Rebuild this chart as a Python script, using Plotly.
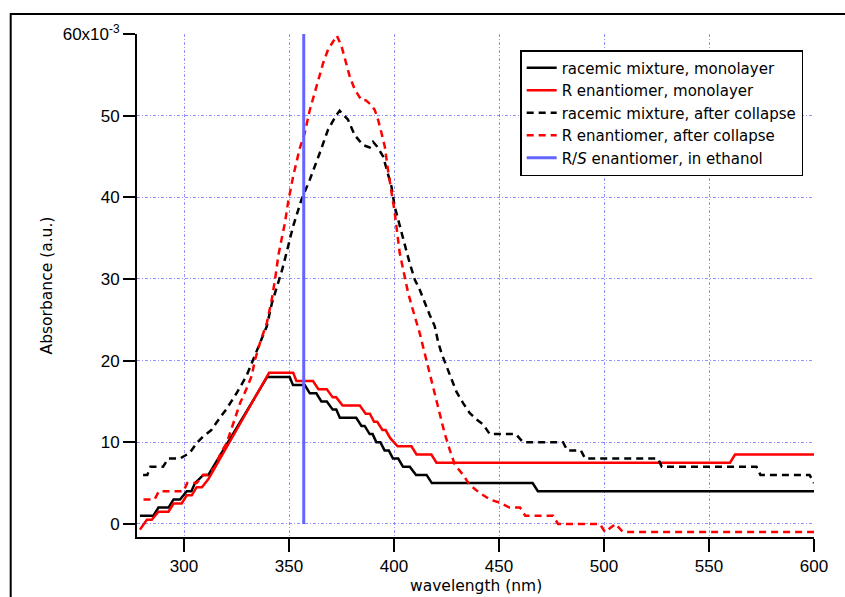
import plotly.graph_objects as go

# ---------------- data (absorbance in units of 1e-3) ----------------
rac_mono_x = [279, 285.4, 287.8, 292.6, 295, 298.1, 301.3, 303.5, 305.2, 309.2, 311.6, 339.6,
              350.3, 351.9, 357.5, 359.9, 363, 365.4, 368, 370.8, 372.5, 374.2, 382, 384.5,
              386, 388.4, 389.8, 391.6, 393.5, 395.5, 397.5, 399.5, 402, 404.3, 407.5, 410.5,
              415.5, 418, 466, 468.5, 600]
rac_mono_y = [1, 1, 2, 2, 3, 3, 4, 4, 5, 6, 6, 18,
              18, 17, 17, 16, 16, 15, 15, 14, 14, 13, 13, 12,
              12, 11, 11, 10, 10, 9, 9, 8, 8, 7, 7, 6,
              6, 5, 5, 4, 4]

r_mono_x = [279, 282.3, 284.6, 287.8, 292.6, 295, 298.9, 301.3, 303.7, 306, 308.5, 311.6, 340.5,
            352, 353.5, 361.4, 364, 368, 370.8, 372.5, 375.5, 383.7, 386.5, 388.5, 390.5, 392,
            394.5, 396, 398.2, 401.7, 408.3, 410.7, 417.8, 420.2, 560, 562.4, 600]
r_mono_y = [-0.7, 0.5, 0.5, 1.5, 1.5, 2.5, 2.5, 3.5, 3.5, 4.5, 4.5, 5.5, 18.5,
            18.5, 17.5, 17.5, 16.5, 16.5, 15.5, 15.5, 14.5, 14.5, 13.5, 13.5, 12.5, 12.5,
            11.5, 11.5, 10.5, 9.5, 9.5, 8.5, 8.5, 7.5, 7.5, 8.5, 8.5]

rac_coll_x = [280.5, 282.5, 284, 290, 292.5, 298, 302.7, 306, 309, 313, 316.5, 320, 325,
              329.7, 332.9, 336.5, 339.4, 341.8, 344.3, 346.7, 348.8, 351.9, 355.9, 359.8,
              364.6, 368.6, 372.6, 374.1, 378.1, 381.3, 385.2, 388.4, 390, 392, 394.8, 396.4,
              398.8, 400.3, 402.3, 404.3, 407.5, 409.9, 412.2, 414.6, 417, 419.4, 421, 422.6,
              425, 427.3, 429.7, 432.9, 436, 439.2, 442.4, 445.6, 458, 461.4, 480.5, 482.5,
              489, 491, 525.7, 527.5, 572.6, 574.5, 597.9, 600]
rac_coll_y = [6, 6, 7, 7, 8, 8, 8.7, 9.9, 10.7, 11.5, 12.8, 14, 16,
              18.1, 20.1, 22.5, 24.2, 27, 29.1, 31.1, 33.2, 36.4, 39.7, 42.1,
              45.4, 48.3, 50.1, 50.6, 49.5, 47.6, 46.4, 46.1, 46.8, 46.2, 45, 43.4,
              41.3, 38.9, 36.8, 35, 31.9, 29.9, 28.7, 27.05, 25.6, 24.2, 22.3, 20.9,
              19.3, 17.7, 16.2, 14.8, 13.6, 12.8, 12.2, 11, 11, 10, 10, 9,
              9, 8, 8, 7, 7, 6, 6, 5]

r_coll_x = [280.7, 286, 288, 299.7, 301.5, 306, 309, 311, 314.8, 317.5, 320.3, 323.5, 326.7,
            329.5, 332.2, 333.8, 336.2, 339.4, 341.8, 343.3, 345, 346.4, 348, 349.5, 351.9,
            355.1, 357.5, 359.9, 362.2, 363.8, 366.2, 368.6, 371.8, 372.8, 375, 377.3, 378.9,
            381.3, 384.5, 386.5, 389.2, 390.8, 392.4, 394, 395.6, 397.1, 398.8, 400.3, 402.7,
            404.3, 406.7, 409, 412.2, 414.6, 417, 419.4, 421.8, 424.1, 426.5, 428.9, 432.9,
            436, 440.8, 445.6, 450.3, 455, 460, 462.5, 475.7, 478.1, 498, 500.5, 505.5, 509, 600]
r_coll_y = [3, 3, 4, 4, 5, 5, 6, 6, 7, 8.7, 9.9, 12.4, 14.8,
            16.4, 18.1, 20.1, 22.2, 24.6, 27.5, 29.9, 33, 34.8, 36.8, 39.3, 42.5,
            46, 47.9, 50.7, 52.8, 54.4, 56.4, 58.1, 59.5, 59.8, 58.5, 56.4, 54.8,
            53.2, 51.9, 51.9, 51.3, 50.7, 49.5, 47.9, 46.2, 43.4, 40.9, 38.2, 33.2,
            31.1, 28.3, 26.2, 23.4, 20.9, 18.5, 16, 13.6, 11.1, 9.1, 7.3, 6,
            4.8, 3.8, 3, 2.6, 2, 2, 1, 1, 0, 0, -1, 0, -1, -1]

ethanol_x = [357, 357]
ethanol_y = [0, 60]

names = ["racemic mixture, monolayer", "R enantiomer, monolayer",
         "racemic mixture, after collapse", "R enantiomer, after collapse",
         "R/<i>S</i> enantiomer, in ethanol"]

x_ticks = [300, 350, 400, 450, 500, 550, 600]
x_ticktext = ["300", "350", "400", "450", "500", "550", "600"]
y_ticks = [0, 10, 20, 30, 40, 50, 60]
y_ticktext = ["0", "10", "20", "30", "40", "50", "60x10<sup>-3</sup>"]
x_title = "wavelength (nm)"
y_title = "Absorbance (a.u.)"

# ---------------- figure ----------------
TICKFONT = "Arial, Liberation Sans, sans-serif"
TEXTFONT = "DejaVu Sans, Arial, sans-serif"
DASH = "7px,5px"

fig = go.Figure()
fig.add_trace(go.Scatter(x=rac_mono_x, y=rac_mono_y, mode="lines", name=names[0],
                         line=dict(color="black", width=2.5)))
fig.add_trace(go.Scatter(x=r_mono_x, y=r_mono_y, mode="lines", name=names[1],
                         line=dict(color="#ff0000", width=2.5)))
fig.add_trace(go.Scatter(x=rac_coll_x, y=rac_coll_y, mode="lines", name=names[2],
                         line=dict(color="black", width=2.5, dash=DASH)))
fig.add_trace(go.Scatter(x=r_coll_x, y=r_coll_y, mode="lines", name=names[3],
                         line=dict(color="#ff0000", width=2.5, dash=DASH)))
fig.add_trace(go.Scatter(x=ethanol_x, y=ethanol_y, mode="lines", name=names[4],
                         line=dict(color="#6464ff", width=3)))

grid = dict(showgrid=True, gridcolor="rgba(100,100,255,0.7)", gridwidth=1,
            griddash="3px,2px,1px,2px")

fig.update_layout(
    width=845, height=597,
    margin=dict(l=137, r=31, t=34, b=60),
    paper_bgcolor="white", plot_bgcolor="white",
    font=dict(family=TEXTFONT, size=15, color="black"),
    showlegend=True,
    legend=dict(x=0.566, y=0.968, xanchor="left", yanchor="top",
                bgcolor="white", bordercolor="black", borderwidth=1.5,
                font=dict(family=TEXTFONT, size=15, color="black"),
                tracegroupgap=0, itemwidth=30),
    xaxis=dict(range=[277.6, 600], tickmode="array", tickvals=x_ticks, ticktext=x_ticktext,
               ticks="outside", ticklen=13, tickwidth=1.5, tickcolor="black",
               showline=True, linecolor="black", linewidth=1.5, zeroline=False,
               automargin=False,
               tickfont=dict(family=TICKFONT, size=17, color="black"),
               **grid),
    yaxis=dict(range=[-1.6, 60], tickmode="array", tickvals=y_ticks, ticktext=y_ticktext,
               ticks="outside", ticklen=12, tickwidth=2, tickcolor="black",
               showline=True, linecolor="black", linewidth=2, zeroline=False,
               automargin=False,
               tickfont=dict(family=TICKFONT, size=17, color="black"),
               title=dict(text=y_title, font=dict(family=TEXTFONT, size=15.5),
                          standoff=6),
               **grid),
    annotations=[dict(text=x_title, xref="paper", yref="paper", x=0.5,
                      y=(537.3 - 586.5) / 503.3, xanchor="center", yanchor="middle",
                      showarrow=False, font=dict(family=TEXTFONT, size=15.5, color="black"))],
    shapes=[dict(type="rect", xref="paper", yref="paper",
                 x0=(11 - 137.3) / 677, x1=1.08, y0=-0.15, y1=(537.3 - 14) / 503.3,
                 line=dict(color="black", width=2), fillcolor="rgba(0,0,0,0)", layer="above")],
)

fig.write_html("out.html")
